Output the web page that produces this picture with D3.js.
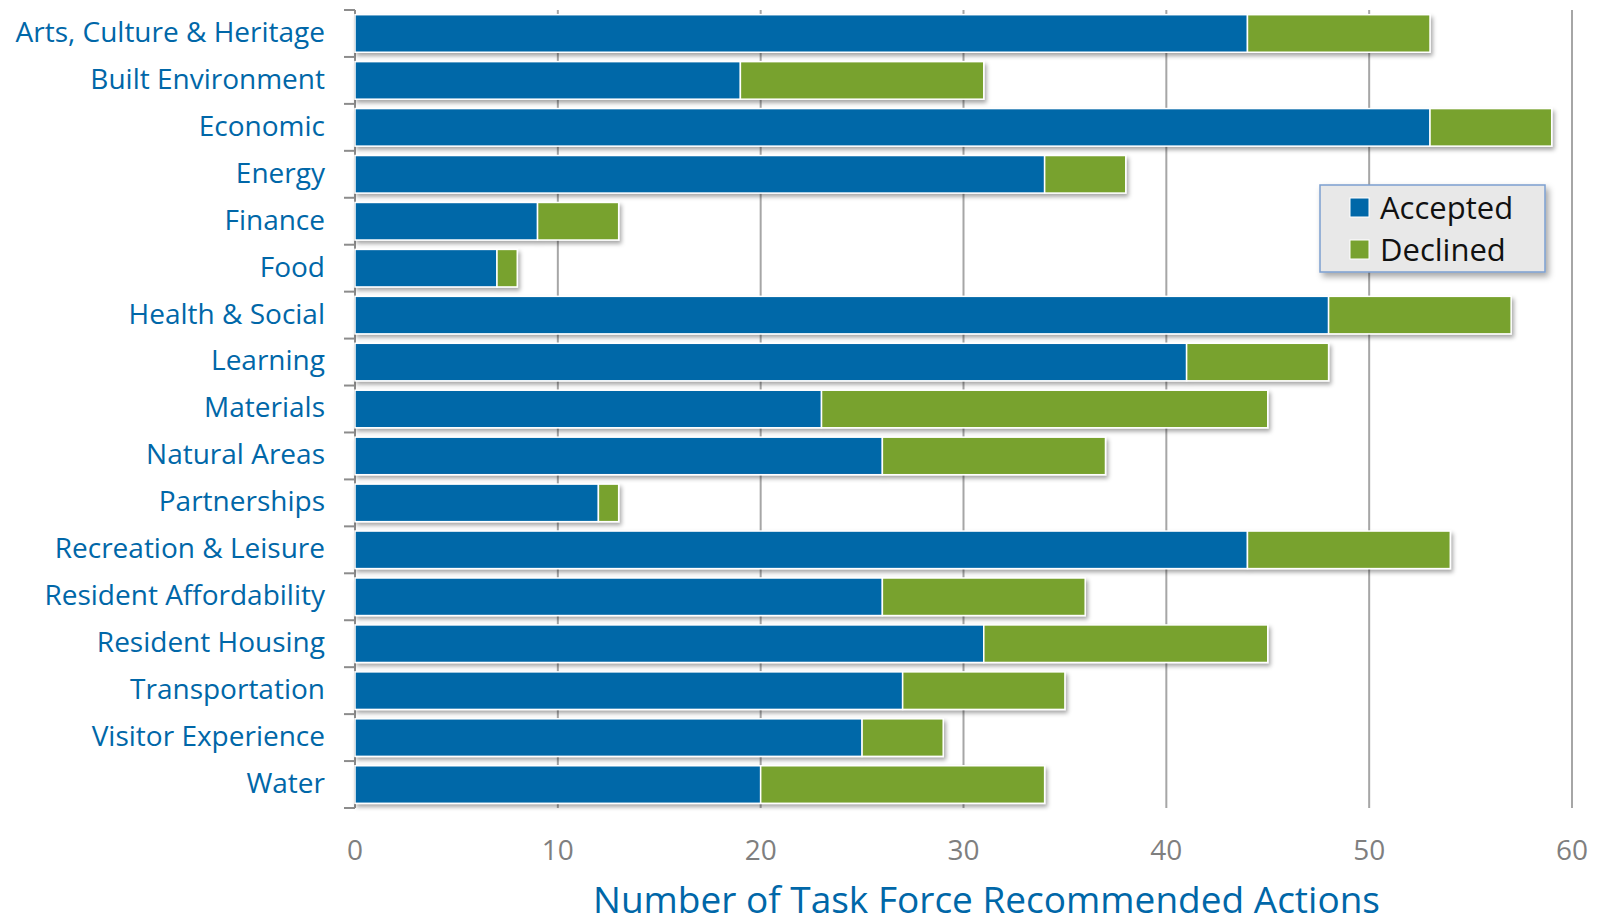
<!DOCTYPE html>
<style>
    body { margin: 0; background: #fff; }
    text { font-family: "Open Sans", sans-serif; }
    .cat text { fill: #0067a8; font-size: 28px; }
    .xax text { fill: #7f7f7f; font-size: 28px; }
</style>
<svg width="1604" height="921"></svg>
<script src="https://d3js.org/d3.v7.min.js"></script>
<script>
    var categories = ["Arts, Culture & Heritage", "Built Environment", "Economic", "Energy", "Finance", "Food",
        "Health & Social", "Learning", "Materials", "Natural Areas", "Partnerships", "Recreation & Leisure",
        "Resident Affordability", "Resident Housing", "Transportation", "Visitor Experience", "Water"];
    var accepted = [44, 19, 53, 34, 9, 7, 48, 41, 23, 26, 12, 44, 26, 31, 27, 25, 20];
    var declined = [9, 12, 6, 4, 4, 1, 9, 7, 22, 11, 1, 10, 10, 14, 8, 4, 14];
    var seriesNames = ["Accepted", "Declined"];
    var colors = ["#0067a8", "#78a22f"];
    var xTicks = [0, 10, 20, 30, 40, 50, 60];

    var svg = d3.select('svg');
    var plotL = 355, plotR = 1572, plotT = 10, plotB = 808;

    var defs = svg.append('defs');
    var f = defs.append('filter').attr('id', 'shadow').attr('x', '-5%').attr('y', '-5%').attr('width', '110%').attr('height', '110%');
    f.append('feDropShadow').attr('dx', 2).attr('dy', 3).attr('stdDeviation', 2)
        .attr('flood-color', '#000').attr('flood-opacity', 0.35);
    var f2 = defs.append('filter').attr('id', 'lshadow').attr('x', '-10%').attr('y', '-20%').attr('width', '130%').attr('height', '150%');
    f2.append('feDropShadow').attr('dx', 3).attr('dy', 4).attr('stdDeviation', 3)
        .attr('flood-color', '#000').attr('flood-opacity', 0.35);

    var x = d3.scaleLinear().domain([0, 60]).range([plotL, plotR]);
    var y = d3.scaleBand().domain(categories).range([plotT, plotB]).paddingInner(0.2).paddingOuter(0.1);
    var yb = d3.scaleBand().domain(categories).range([plotT, plotB]);

    // gridlines
    svg.append('g').selectAll('line').data(xTicks.slice(1)).join('line')
        .attr('x1', d => x(d)).attr('x2', d => x(d))
        .attr('y1', plotT).attr('y2', plotB)
        .attr('stroke', '#a6a6a6').attr('stroke-width', 2);

    // left axis, ticks between categories
    var ax = svg.append('g');
    ax.append('line').attr('x1', plotL).attr('x2', plotL).attr('y1', plotT).attr('y2', plotB)
        .attr('stroke', '#8c8c8c').attr('stroke-width', 2);
    var bounds = categories.map(c => yb(c)).concat([plotB]);
    ax.selectAll('line.t').data(bounds).join('line').attr('class', 't')
        .attr('x1', plotL - 11).attr('x2', plotL).attr('y1', d => d).attr('y2', d => d)
        .attr('stroke', '#8c8c8c').attr('stroke-width', 2);

    var cat = svg.append('g').attr('class', 'cat');
    cat.selectAll('text').data(categories).join('text')
        .attr('x', 325).attr('y', d => yb(d) + yb.bandwidth() / 2)
        .attr('dy', '0.3em').attr('text-anchor', 'end').text(d => d);

    // bars
    var rows = categories.map((c, i) => ({ c: c, a: accepted[i], d: declined[i] }));
    var bars = svg.append('g').attr('filter', 'url(#shadow)');
    var g = bars.selectAll('g').data(rows).join('g');
    g.append('rect')
        .attr('x', x(0)).attr('y', d => y(d.c))
        .attr('width', d => x(d.a) - x(0)).attr('height', y.bandwidth())
        .attr('fill', colors[0]).attr('stroke', '#fff').attr('stroke-width', 1.5);
    g.append('rect')
        .attr('x', d => x(d.a)).attr('y', d => y(d.c))
        .attr('width', d => x(d.a + d.d) - x(d.a)).attr('height', y.bandwidth())
        .attr('fill', colors[1]).attr('stroke', '#fff').attr('stroke-width', 1.5);

    // x tick labels
    svg.append('g').attr('class', 'xax').selectAll('text').data(xTicks).join('text')
        .attr('x', d => x(d)).attr('y', 860).attr('text-anchor', 'middle').text(d => d);

    svg.append('text').attr('x', (595 + 1378) / 2).attr('y', 913).attr('text-anchor', 'middle')
        .attr('fill', '#0067a8').style('font-size', '37px')
        .text("Number of Task Force Recommended Actions");

    // legend
    var lg = svg.append('g').attr('transform', 'translate(1320,185)');
    lg.append('rect').attr('width', 225).attr('height', 87).attr('fill', '#e8e8e8')
        .attr('stroke', '#7c9fd0').attr('stroke-width', 1.5).attr('filter', 'url(#lshadow)');
    var li = lg.selectAll('g').data(seriesNames).join('g')
        .attr('transform', (d, i) => 'translate(30,' + (13 + i * 42) + ')');
    li.append('rect').attr('width', 19).attr('height', 19).attr('fill', (d, i) => colors[i])
        .attr('stroke', '#fff').attr('stroke-width', 1);
    li.append('text').attr('x', 30).attr('y', 10).attr('dy', '0.36em').attr('fill', '#111')
        .style('font-size', '31px').text(d => d);
</script>
